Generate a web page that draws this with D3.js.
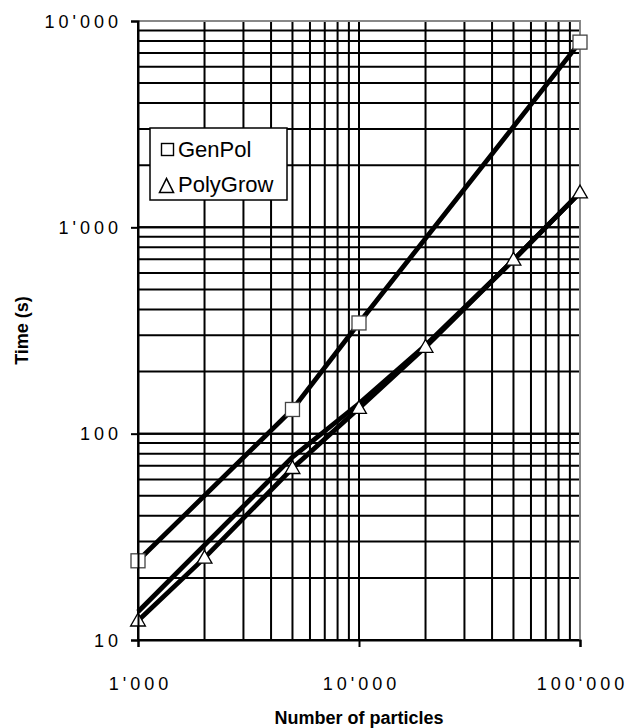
<!DOCTYPE html>
<html lang="en">
	<head>
		<meta charset="utf-8">
		<title>Time vs number of particles</title>
		<script type="text/javascript" src="https://d3js.org/d3.v7.min.js"></script>
		<style type="text/css">
			body { margin: 0; background: #fff; }
			text { font-family: "Liberation Sans", Arial, sans-serif; fill: #000; }
		</style>
	</head>
	<body>
		<script type="text/javascript">

			//Data
			var xGenPol = [1000, 5000, 10000, 100000];
			var genPol = [24.2, 131, 344, 7900];

			var xPolyGrow = [1000, 2000, 5000, 10000, 20000, 50000, 100000];
			var polyGrow = [12.4, 25, 68, 133, 263, 695, 1473];

			//second PolyGrow curve, drawn without markers
			var xPolyGrow2 = [1000, 5000, 10000, 20000, 50000, 100000];
			var polyGrow2 = [13.7, 77, 140, 268, 695, 1473];

			var xTicks = [1000, 10000, 100000];
			var yTicks = [10, 100, 1000, 10000];
			var legendNames = ["GenPol", "PolyGrow"];

			//Width and height
			var w = 627;
			var h = 728;
			var pLeft = 138, pTop = 21, pRight = 580, pBottom = 640;

			var x = d3.scaleLog().domain([1000, 100000]).range([pLeft, pRight]);
			var y = d3.scaleLog().domain([10, 10000]).range([pBottom, pTop]);

			var fmt = function(d) { return d3.format(",")(d).replace(/,/g, "'"); };

			var svg = d3.select("body")
				.append("svg")
				.attr("width", w)
				.attr("height", h);

			//minor grid values 1..9 per decade
			var gridX = [], gridY = [];
			[1000, 10000].forEach(function(b) {
				for (var i = 1; i <= 10; i++) gridX.push(b * i);
			});
			[10, 100, 1000].forEach(function(b) {
				for (var i = 1; i <= 10; i++) gridY.push(b * i);
			});

			svg.append("g").selectAll("line")
				.data(gridX)
				.enter().append("line")
				.attr("x1", function(d) { return x(d); })
				.attr("x2", function(d) { return x(d); })
				.attr("y1", pTop).attr("y2", pBottom)
				.attr("stroke", "#000").attr("stroke-width", 2);

			svg.append("g").selectAll("line")
				.data(gridY)
				.enter().append("line")
				.attr("y1", function(d) { return y(d); })
				.attr("y2", function(d) { return y(d); })
				.attr("x1", pLeft).attr("x2", pRight)
				.attr("stroke", "#000").attr("stroke-width", 2);

			//plot border top/right
			svg.append("path")
				.attr("d", "M" + pLeft + "," + pTop + "H" + pRight + "V" + pBottom)
				.attr("fill", "none").attr("stroke", "#888").attr("stroke-width", 2);

			var line = d3.line()
				.x(function(d) { return x(d[0]); })
				.y(function(d) { return y(d[1]); });

			var series = [
				d3.zip(xPolyGrow2, polyGrow2),
				d3.zip(xPolyGrow, polyGrow),
				d3.zip(xGenPol, genPol)
			];

			svg.append("g").selectAll("path")
				.data(series)
				.enter().append("path")
				.attr("d", line)
				.attr("fill", "none")
				.attr("stroke", "#000")
				.attr("stroke-width", 4.8);

			//markers
			var tri = d3.symbol().type(d3.symbolTriangle).size(95);

			svg.append("g").selectAll("path")
				.data(d3.zip(xPolyGrow, polyGrow))
				.enter().append("path")
				.attr("d", tri)
				.attr("transform", function(d) { return "translate(" + x(d[0]) + "," + (y(d[1]) + 1) + ")"; })
				.attr("fill", "#fff").attr("stroke", "#000").attr("stroke-width", 1.3);

			svg.append("g").selectAll("rect")
				.data(d3.zip(xGenPol, genPol))
				.enter().append("rect")
				.attr("x", function(d) { return x(d[0]) - 7; })
				.attr("y", function(d) { return y(d[1]) - 7; })
				.attr("width", 14).attr("height", 14)
				.attr("fill", "#fff").attr("stroke", "#444").attr("stroke-width", 1.3);

			//Axes
			var xAxis = d3.axisBottom(x).tickValues(xTicks).tickFormat(fmt).tickSize(7).tickPadding(30);
			var yAxis = d3.axisLeft(y).tickValues(yTicks).tickFormat(fmt).tickSize(7).tickPadding(9);

			var gx = svg.append("g").attr("transform", "translate(0," + pBottom + ")").call(xAxis);
			var gy = svg.append("g").attr("transform", "translate(" + pLeft + ",0)").call(yAxis);

			[gx, gy].forEach(function(g) {
				g.select(".domain").attr("stroke", "#000").attr("stroke-width", 2);
				g.selectAll(".tick line").attr("stroke", "#000").attr("stroke-width", 2);
				g.selectAll(".tick text")
					.attr("font-family", "Liberation Sans, Arial, sans-serif")
					.attr("font-size", 18)
					.attr("letter-spacing", 4)
					.attr("fill", "#000");
			});
			gy.selectAll(".tick text").attr("dy", "0.35em");
			gx.selectAll(".tick text").attr("dx", 2);

			//Axis titles
			svg.append("text")
				.attr("x", (pLeft + pRight) / 2)
				.attr("y", 724)
				.attr("text-anchor", "middle")
				.attr("font-size", 18)
				.attr("font-weight", "bold")
				.text("Number of particles");

			svg.append("text")
				.attr("transform", "translate(28," + ((pTop + pBottom) / 2) + ") rotate(-90)")
				.attr("text-anchor", "middle")
				.attr("font-size", 18)
				.attr("font-weight", "bold")
				.text("Time (s)");

			//Legend
			var lg = svg.append("g").attr("transform", "translate(150,128)");
			lg.append("rect")
				.attr("width", 137).attr("height", 72)
				.attr("fill", "#fff").attr("stroke", "#000").attr("stroke-width", 1.5);

			lg.append("rect")
				.attr("x", 11.5).attr("y", 15.5).attr("width", 12).attr("height", 12)
				.attr("fill", "#fff").attr("stroke", "#000").attr("stroke-width", 1.4);
			lg.append("path")
				.attr("d", "M9.5,64.5L16.5,50.5L23.5,64.5Z")
				.attr("fill", "#fff").attr("stroke", "#000").attr("stroke-width", 1.6);

			lg.selectAll("text.lab")
				.data(legendNames)
				.enter().append("text")
				.attr("class", "lab")
				.attr("x", 28)
				.attr("y", function(d, i) { return 29 + i * 35; })
				.attr("font-size", 22)
				.text(function(d) { return d; });

		</script>
	</body>
</html>
